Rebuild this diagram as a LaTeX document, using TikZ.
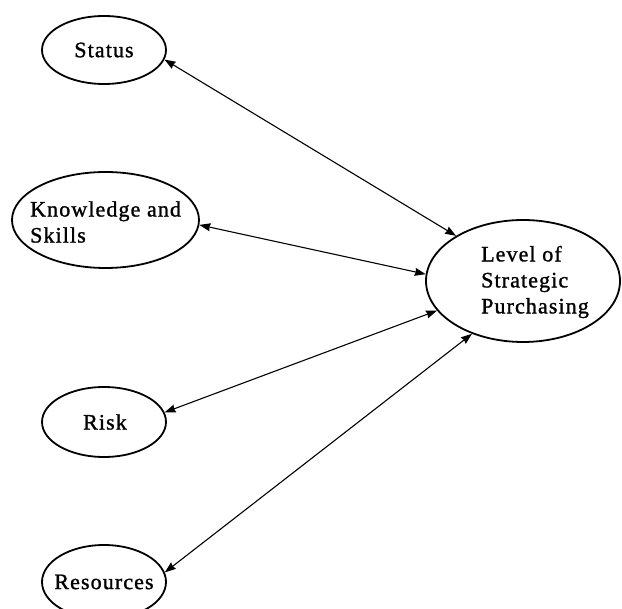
\documentclass[tikz,border=0pt]{standalone}
\usepackage{fontspec}
\setmainfont{Liberation Serif}[LetterSpace=5, FakeBold=1.2]
\usetikzlibrary{shapes.geometric,arrows.meta}
\tikzset{
  construct/.style={draw, ellipse, line width=1.8pt, inner sep=0pt},
  link/.style={line width=1.1pt,
    {Stealth[length=11pt,width=8pt,inset=1pt]}-{Stealth[length=11pt,width=8pt,inset=1pt]}},
  caption/.style={font=\fontsize{22}{26}\selectfont, align=left, inner sep=0pt}
}
\begin{document}
\begin{tikzpicture}[x=1pt,y=-1pt]
  \clip (0,0) rectangle (622,609);
  \fill[white] (0,0) rectangle (622,609);

  % construct outlines
  \node[construct, minimum width=124pt, minimum height=68pt] (status) at (104,50) {};
  \node[construct, minimum width=187pt, minimum height=96pt] (skills) at (105.5,220) {};
  \node[construct, minimum width=124pt, minimum height=70pt] (risk) at (104,422) {};
  \node[construct, minimum width=124pt, minimum height=74pt] (resources) at (104,582) {};
  \node[construct, minimum width=194pt, minimum height=122pt] (level) at (523,281) {};

  % construct names
  \node[caption] (statustext) at (104,50) {Status};
  \node[caption, anchor=west] (skillstext) at (30,222) {Knowledge and\\Skills};
  \node[caption] (risktext) at (105,422) {Risk};
  \node[caption] (resourcestext) at (104,582) {Resources};
  \node[caption, anchor=west] (leveltext) at (481,282) {Level of\\Strategic\\Purchasing};

  % two-way relations
  \draw[link] (status.-9.6) -- (level.146);
  \draw[link] (skills.-3.7) -- (level.176);
  \draw[link] (risk.9.6) -- (level.199);
  \draw[link] (resources.9.6) -- (level.226);
\end{tikzpicture}
\end{document}
